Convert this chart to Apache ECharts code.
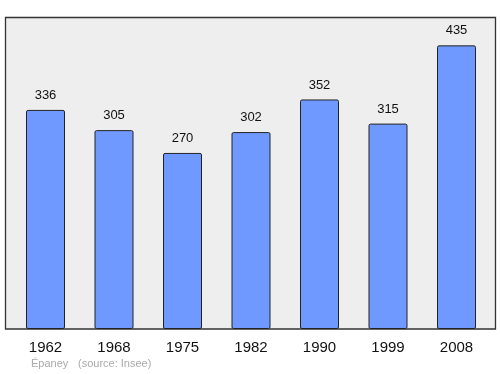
<!DOCTYPE html>
<html><head><meta charset="utf-8">
<script src="https://cdn.jsdelivr.net/npm/echarts@6/dist/echarts.min.js"></script>
<style>html,body{margin:0;padding:0;background:#fff}#c{width:500px;height:374px}</style>
</head><body><div id="c"></div>
<script>
var categories = ['1962','1968','1975','1982','1990','1999','2008'];
var population = [336,305,270,302,352,315,435];
var chart = echarts.init(document.getElementById('c'), null, {renderer:'canvas'});
chart.setOption({
  animation:false,
  grid:{left:11.25, width:479.5, top:17, bottom:45, containLabel:false},
  graphic:[
    {type:'rect', z:-10, shape:{x:5.5,y:17.5,width:490,height:311.5}, style:{fill:'#eeeeee',stroke:'#333333',lineWidth:1.3}},
    {type:'text', left:31, top:358, style:{text:'Épaney', fill:'#aaaaaa', font:'11px "Liberation Sans", Arial, sans-serif'}},
    {type:'text', left:78, top:358, style:{text:'(source: Insee)', fill:'#aaaaaa', font:'11px "Liberation Sans", Arial, sans-serif'}}
  ],
  xAxis:{type:'category', data:categories, axisLine:{show:false}, axisTick:{show:false},
    axisLabel:{color:'#111', fontSize:15, fontFamily:'Liberation Sans, Arial, sans-serif', margin:11}},
  yAxis:{type:'value', min:0, max:478.5, show:false, splitLine:{show:false}},
  series:[{type:'bar', data:population, barWidth:39,
    itemStyle:{color:'#7099ff', borderColor:'#222', borderWidth:1, borderRadius:1.5},
    label:{show:true, position:'top', distance:8, color:'#111', fontSize:13, fontFamily:'Liberation Sans, Arial, sans-serif'}}]
});
</script></body></html>
